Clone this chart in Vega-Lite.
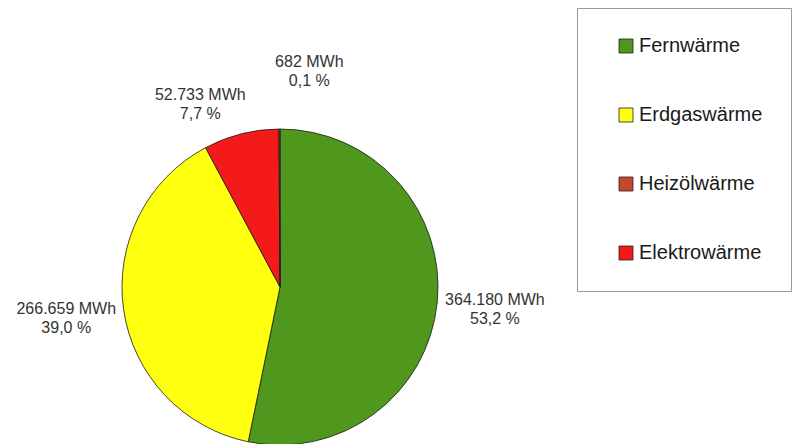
{
  "$schema": "https://vega.github.io/schema/vega-lite/v6.json",
  "width": 560,
  "height": 314,
  "autosize": "none",
  "padding": {"left": 0, "top": 130, "right": 237, "bottom": 0},
  "background": "white",
  "config": {"view": {"stroke": null}, "font": "Liberation Sans"},
  "data": {"values": [
    {"Art": "Fernwärme", "MWh": 364180, "Reihenfolge": 1, "Beschriftung": "364.180 MWh\n53,2 %"},
    {"Art": "Erdgaswärme", "MWh": 266659, "Reihenfolge": 2, "Beschriftung": "266.659 MWh\n39,0 %"},
    {"Art": "Elektrowärme", "MWh": 52733, "Reihenfolge": 3, "Beschriftung": "52.733 MWh\n7,7 %"},
    {"Art": "Heizölwärme", "MWh": 682, "Reihenfolge": 4, "Beschriftung": "682 MWh\n0,1 %"}
  ]},
  "encoding": {
    "theta": {"field": "MWh", "type": "quantitative", "stack": true},
    "order": {"field": "Reihenfolge", "type": "quantitative"}
  },
  "layer": [
    {
      "mark": {"type": "arc", "outerRadius": 158, "stroke": "#1a1a1a", "strokeWidth": 0.8},
      "encoding": {
        "color": {
          "field": "Art", "type": "nominal",
          "scale": {"domain": ["Fernwärme", "Erdgaswärme", "Heizölwärme", "Elektrowärme"], "range": ["#4f971d", "#ffff10", "#c8452f", "#f41a1a"]},
          "legend": {
            "title": null, "orient": "none", "legendX": 577, "legendY": -122,
            "padding": 28, "strokeColor": "#999999", "fillColor": "white",
            "symbolType": "square", "symbolSize": 196, "symbolOffset": 11,
            "symbolStrokeColor": "#222222", "symbolStrokeWidth": 0.8,
            "labelOffset": 3, "labelFontSize": 20, "labelColor": "#1a1a1a", "labelFont": "Liberation Sans",
            "rowPadding": 49
          }
        }
      }
    },
    {
      "mark": {"type": "text", "radius": 216, "dy": -9, "fontSize": 16, "lineBreak": "\n", "lineHeight": 19, "baseline": "middle", "align": "center", "color": "#333333"},
      "encoding": {
        "text": {"field": "Beschriftung", "type": "nominal", "condition": {"test": "datum.Art !== 'Fernwärme' && datum.Art !== 'Erdgaswärme'", "value": ""}}
      }
    },
    {
      "mark": {"type": "text", "radius": 190, "dx": -33, "dy": -8, "fontSize": 16, "lineBreak": "\n", "lineHeight": 19, "baseline": "middle", "align": "center", "color": "#333333"},
      "encoding": {
        "text": {"field": "Beschriftung", "type": "nominal", "condition": {"test": "datum.Art !== 'Elektrowärme'", "value": ""}}
      }
    },
    {
      "mark": {"type": "text", "radius": 217, "dx": 30, "dy": -8, "fontSize": 16, "lineBreak": "\n", "lineHeight": 19, "baseline": "middle", "align": "center", "color": "#333333"},
      "encoding": {
        "text": {"field": "Beschriftung", "type": "nominal", "condition": {"test": "datum.Art !== 'Heizölwärme'", "value": ""}}
      }
    }
  ]
}
